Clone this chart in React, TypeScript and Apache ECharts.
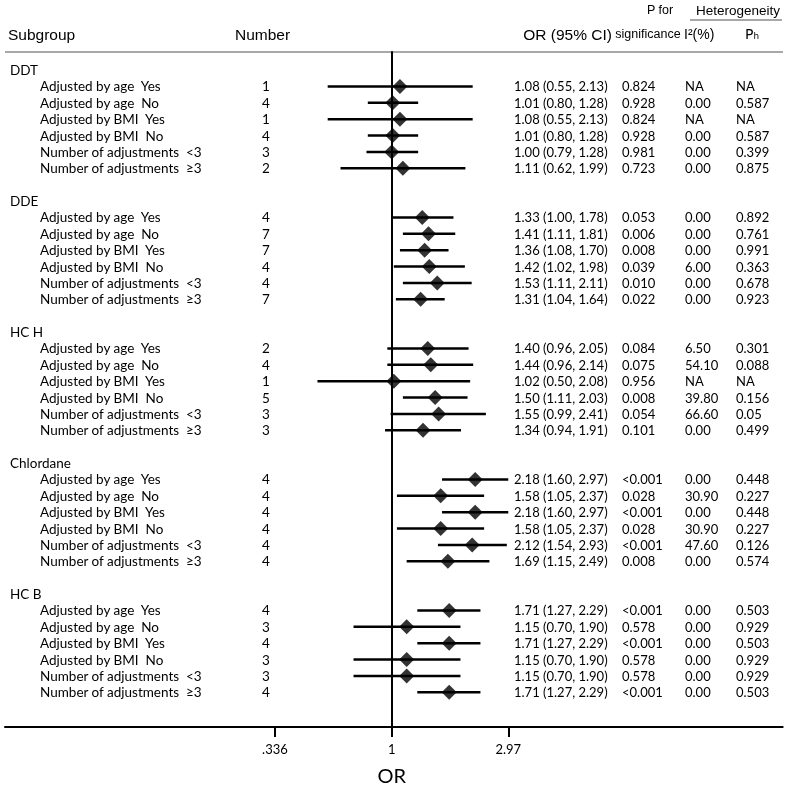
import React, { useEffect, useRef } from "react";
import * as echarts from "echarts";

const groups = ["DDT", "DDE", "HC H", "Chlordane", "HC B"];
const subgroups = [
  "Adjusted by age  Yes",
  "Adjusted by age  No",
  "Adjusted by BMI  Yes",
  "Adjusted by BMI  No",
  "Number of adjustments  <3",
  "Number of adjustments  ≥3",
];
const studyCounts = [
  [1, 4, 1, 4, 3, 2],
  [4, 7, 7, 4, 4, 7],
  [2, 4, 1, 5, 3, 3],
  [4, 4, 4, 4, 4, 4],
  [4, 3, 4, 3, 3, 4],
];
const orValues = [
  [1.08, 1.01, 1.08, 1.01, 1.0, 1.11],
  [1.33, 1.41, 1.36, 1.42, 1.53, 1.31],
  [1.4, 1.44, 1.02, 1.5, 1.55, 1.34],
  [2.18, 1.58, 2.18, 1.58, 2.12, 1.69],
  [1.71, 1.15, 1.71, 1.15, 1.15, 1.71],
];
const ciLower = [
  [0.55, 0.8, 0.55, 0.8, 0.79, 0.62],
  [1.0, 1.11, 1.08, 1.02, 1.11, 1.04],
  [0.96, 0.96, 0.5, 1.11, 0.99, 0.94],
  [1.6, 1.05, 1.6, 1.05, 1.54, 1.15],
  [1.27, 0.7, 1.27, 0.7, 0.7, 1.27],
];
const ciUpper = [
  [2.13, 1.28, 2.13, 1.28, 1.28, 1.99],
  [1.78, 1.81, 1.7, 1.98, 2.11, 1.64],
  [2.05, 2.14, 2.08, 2.03, 2.41, 1.91],
  [2.97, 2.37, 2.97, 2.37, 2.93, 2.49],
  [2.29, 1.9, 2.29, 1.9, 1.9, 2.29],
];
const pSignificance = [
  ["0.824", "0.928", "0.824", "0.928", "0.981", "0.723"],
  ["0.053", "0.006", "0.008", "0.039", "0.010", "0.022"],
  ["0.084", "0.075", "0.956", "0.008", "0.054", "0.101"],
  ["<0.001", "0.028", "<0.001", "0.028", "<0.001", "0.008"],
  ["<0.001", "0.578", "<0.001", "0.578", "0.578", "<0.001"],
];
const i2Values = [
  ["NA", "0.00", "NA", "0.00", "0.00", "0.00"],
  ["0.00", "0.00", "0.00", "6.00", "0.00", "0.00"],
  ["6.50", "54.10", "NA", "39.80", "66.60", "0.00"],
  ["0.00", "30.90", "0.00", "30.90", "47.60", "0.00"],
  ["0.00", "0.00", "0.00", "0.00", "0.00", "0.00"],
];
const pHeterogeneity = [
  ["NA", "0.587", "NA", "0.587", "0.399", "0.875"],
  ["0.892", "0.761", "0.991", "0.363", "0.678", "0.923"],
  ["0.301", "0.088", "NA", "0.156", "0.05", "0.499"],
  ["0.448", "0.227", "0.448", "0.227", "0.126", "0.574"],
  ["0.503", "0.929", "0.503", "0.929", "0.929", "0.503"],
];
const tickValues = [0.336, 1, 2.97];
const tickLabels = [".336", "1", "2.97"];

const fmt = (v: number) => v.toFixed(2);

export default function App() {
  const ref = useRef<HTMLDivElement>(null);
  useEffect(() => {
    const chart = echarts.init(ref.current!, undefined, { renderer: "svg" });

    const rowsPerGroup = 8;
    const ciData: number[][] = [];
    const pointData: number[][] = [];
    type T = { x: number; r: number; text: string; align: string; font: string };
    const texts: T[] = [];
    const labelFont = "13.5px Lato";
    const numFont = "13px Lato";
    const col = { group: 10, label: 40, number: 266, or: 514, p: 622, i2: 685, ph: 736 };

    groups.forEach((g, gi) => {
      const base = gi * rowsPerGroup;
      texts.push({ x: col.group, r: base, text: g, align: "left", font: labelFont });
      subgroups.forEach((s, si) => {
        const r = base + 1 + si;
        ciData.push([Math.log(ciLower[gi][si]), Math.log(ciUpper[gi][si]), r]);
        pointData.push([Math.log(orValues[gi][si]), r]);
        texts.push({ x: col.label, r, text: s, align: "left", font: labelFont });
        texts.push({ x: col.number, r, text: String(studyCounts[gi][si]), align: "center", font: labelFont });
        texts.push({
          x: col.or,
          r,
          text: `${fmt(orValues[gi][si])} (${fmt(ciLower[gi][si])}, ${fmt(ciUpper[gi][si])})`,
          align: "left",
          font: numFont,
        });
        texts.push({ x: col.p, r, text: pSignificance[gi][si], align: "left", font: numFont });
        texts.push({ x: col.i2, r, text: i2Values[gi][si], align: "left", font: numFont });
        texts.push({ x: col.ph, r, text: pHeterogeneity[gi][si], align: "left", font: numFont });
      });
    });

    const yMin = -1.1;
    const yMax = 40.12;
    const gridTop = 52;
    const gridBottom = 62;
    const headFont = "Liberation Sans, Arial, sans-serif";

    const option: any = {
      animation: false,
      grid: [
        { left: 5, right: 4.3, top: gridTop, bottom: gridBottom },
        { left: 0, right: 0, top: gridTop, bottom: gridBottom },
      ],
      xAxis: [
        {
          type: "value",
          gridIndex: 0,
          min: -3.611,
          max: 3.651,
          axisLine: { show: true, onZero: false, lineStyle: { color: "#000", width: 2 } },
          axisTick: {
            show: true,
            customValues: tickValues.map(Math.log),
            length: 10,
            lineStyle: { color: "#000", width: 2 },
          },
          axisLabel: {
            show: true,
            customValues: tickValues.map(Math.log),
            margin: 15,
            color: "#000",
            fontSize: 13,
            fontFamily: "Lato",
            formatter: (v: number) => {
              let best = 0;
              tickValues.forEach((t, i) => {
                if (Math.abs(Math.log(t) - v) < Math.abs(Math.log(tickValues[best]) - v)) best = i;
              });
              return tickLabels[best];
            },
          },
          splitLine: { show: false },
        },
        {
          type: "value",
          gridIndex: 1,
          min: 0,
          max: 787,
          show: false,
        },
      ],
      yAxis: [
        {
          type: "value",
          gridIndex: 0,
          min: yMin,
          max: yMax,
          inverse: true,
          axisLine: { show: true, onZero: true, lineStyle: { color: "#000", width: 2 } },
          axisTick: { show: false },
          axisLabel: { show: false },
          splitLine: { show: false },
        },
        {
          type: "value",
          gridIndex: 1,
          min: yMin,
          max: yMax,
          inverse: true,
          show: false,
        },
      ],
      graphic: [
        { type: "line", shape: { x1: 5, y1: 52, x2: 783, y2: 52 }, style: { stroke: "#a8a8a8", lineWidth: 2 } },
        { type: "line", shape: { x1: 690, y1: 20, x2: 782, y2: 20 }, style: { stroke: "#a8a8a8", lineWidth: 2 } },
        { type: "text", x: 8, y: 34, style: { text: "Subgroup", font: `15.5px ${headFont}`, fill: "#000", textVerticalAlign: "middle" } },
        { type: "text", x: 235, y: 34, style: { text: "Number", font: `15.5px ${headFont}`, fill: "#000", textVerticalAlign: "middle" } },
        { type: "text", x: 612, y: 34, style: { text: "OR (95% CI)", font: `15.5px ${headFont}`, fill: "#000", textAlign: "right", textVerticalAlign: "middle" } },
        { type: "text", x: 660, y: 10, style: { text: "P for", font: `12.5px ${headFont}`, fill: "#000", textAlign: "center", textVerticalAlign: "middle" } },
        { type: "text", x: 648, y: 34, style: { text: "significance", font: `12.5px ${headFont}`, fill: "#000", textAlign: "center", textVerticalAlign: "middle" } },
        { type: "text", x: 738, y: 10, style: { text: "Heterogeneity", font: `13.5px ${headFont}`, fill: "#000", textAlign: "center", textVerticalAlign: "middle" } },
        { type: "text", x: 684, y: 34, style: { text: "I²(%)", font: `14px ${headFont}`, fill: "#000", textVerticalAlign: "middle" } },
        { type: "text", x: 745, y: 34, style: { text: "Pₕ", font: `14px DejaVu Sans, ${headFont}`, fill: "#000", textVerticalAlign: "middle" } },
        { type: "text", x: 391.7, y: 775, style: { text: "OR", font: "20px Lato", fill: "#000", textAlign: "center", textVerticalAlign: "middle" } },
      ],
      series: [
        {
          type: "custom",
          xAxisIndex: 0,
          yAxisIndex: 0,
          data: ciData,
          encode: { x: [0, 1], y: 2 },
          clip: false,
          renderItem: (_p: any, api: any) => {
            const s = api.coord([api.value(0), api.value(2)]);
            const e = api.coord([api.value(1), api.value(2)]);
            return {
              type: "line",
              shape: { x1: s[0], y1: s[1], x2: e[0], y2: e[1] },
              style: { stroke: "#000", lineWidth: 2.5 },
            };
          },
          z: 2,
        },
        {
          type: "scatter",
          xAxisIndex: 0,
          yAxisIndex: 0,
          data: pointData,
          symbol: "diamond",
          symbolSize: [15, 15],
          itemStyle: { color: "#000" },
          z: 3,
        },
        {
          type: "custom",
          xAxisIndex: 1,
          yAxisIndex: 1,
          data: texts.map((t, i) => [t.x, t.r, i]),
          encode: { x: 0, y: 1 },
          clip: false,
          renderItem: (_p: any, api: any) => {
            const idx = api.value(2);
            const t = texts[idx];
            const p = api.coord([api.value(0), api.value(1)]);
            return {
              type: "text",
              x: p[0],
              y: p[1],
              style: {
                text: t.text,
                font: t.font,
                fill: "#000",
                textAlign: t.align,
                textVerticalAlign: "middle",
              },
            };
          },
          z: 4,
        },
      ],
    };
    chart.setOption(option);
    return () => chart.dispose();
  }, []);
  return <div ref={ref} style={{ position: "fixed", left: 0, top: 0, width: 787, height: 789 }} />;
}
